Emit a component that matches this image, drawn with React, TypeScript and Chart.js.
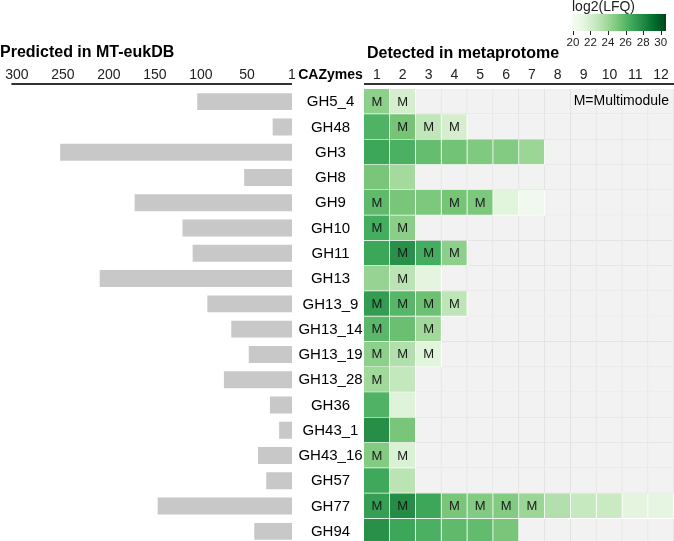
import React, { useEffect, useRef } from 'react';
import { Chart, registerables } from 'chart.js';
Chart.register(...registerables);

const cazymes = ['GH5_4', 'GH48', 'GH3', 'GH8', 'GH9', 'GH10', 'GH11', 'GH13', 'GH13_9', 'GH13_14', 'GH13_19', 'GH13_28', 'GH36', 'GH43_1', 'GH43_16', 'GH57', 'GH77', 'GH94'];
const predictedCounts = [104, 22, 253, 53, 172, 120, 109, 210, 93, 67, 48, 75, 25, 15, 38, 29, 147, 42];
const predictedTicks = [300, 250, 200, 150, 100, 50, 1];
const detectedColumns = [1, 2, 3, 4, 5, 6, 7, 8, 9, 10, 11, 12];
const lfqValues: number[][] = [
  [24.5, 22.0],
  [26.2, 25.2, 22.8, 22.0],
  [26.8, 26.3, 25.6, 25.3, 24.9, 24.8, 24.1],
  [25.1, 23.8],
  [25.8, 25.1, 25.0, 25.2, 25.0, 21.4, 20.4],
  [26.5, 24.6],
  [26.8, 27.7, 26.5, 24.5],
  [24.2, 23.0, 21.3],
  [27.2, 26.0, 25.4, 22.9],
  [25.9, 25.5, 23.9],
  [24.5, 23.3, 21.4],
  [23.9, 22.7],
  [26.2, 21.5],
  [27.8, 25.1],
  [24.8, 21.7],
  [26.7, 23.0],
  [27.1, 27.9, 26.8, 25.1, 24.8, 24.8, 24.1, 23.3, 22.6, 22.5, 21.3, 21.2],
  [27.7, 26.8, 26.3, 25.8, 25.7, 25.1],
];
const multimoduleCols: number[][] = [
  [1, 2], [2, 3, 4], [], [], [1, 4, 5], [1, 2], [2, 3, 4], [2], [1, 2, 3, 4],
  [1, 3], [1, 2, 3], [1], [], [], [1, 2], [], [1, 2, 4, 5, 6, 7], [],
];
const legendTicks = [20, 22, 24, 26, 28, 30];
const LFQ_MIN = 19.9;
const LFQ_MAX = 30.6;

const GREENS = ['#f7fcf5', '#e5f5e0', '#c7e9c0', '#a1d99b', '#74c476', '#41ab5d', '#238b45', '#006d2c', '#00441b'];
const FONT = "'Liberation Sans', Arial, Helvetica, sans-serif";

function hexToRgb(h: string) {
  return [parseInt(h.slice(1, 3), 16), parseInt(h.slice(3, 5), 16), parseInt(h.slice(5, 7), 16)];
}
function greens(v: number) {
  let t = (v - LFQ_MIN) / (LFQ_MAX - LFQ_MIN);
  t = Math.max(0, Math.min(1, t));
  const p = t * (GREENS.length - 1);
  const i = Math.min(GREENS.length - 2, Math.floor(p));
  const f = p - i;
  const a = hexToRgb(GREENS[i]);
  const b = hexToRgb(GREENS[i + 1]);
  const c = a.map((x, k) => Math.round(x + (b[k] - x) * f));
  return `rgb(${c[0]},${c[1]},${c[2]})`;
}

const AREA_TOP = 89;
const AREA_BOTTOM = 544;
const CANVAS_H = 560;
const A_W = 376;
const B_LEFT = 364;
const B_W = 310;

export default function App() {
  const refA = useRef<HTMLCanvasElement>(null);
  const refB = useRef<HTMLCanvasElement>(null);

  useEffect(() => {
    const leftPlugin = {
      id: 'leftDecor',
      afterDraw(chart: any) {
        const ctx = chart.ctx;
        const { left, right } = chart.chartArea;
        const y = chart.scales.y;
        ctx.save();
        ctx.strokeStyle = '#333333';
        ctx.lineWidth = 2;
        ctx.beginPath();
        ctx.moveTo(left, 84);
        ctx.lineTo(right, 84);
        ctx.stroke();
        ctx.fillStyle = '#000';
        ctx.textBaseline = 'alphabetic';
        ctx.textAlign = 'left';
        ctx.font = `bold 16px ${FONT}`;
        ctx.fillText('Predicted in MT-eukDB', 0, 57);
        ctx.textAlign = 'center';
        ctx.textBaseline = 'middle';
        ctx.font = `bold 14px ${FONT}`;
        ctx.fillText('CAZymes', 330.5, 75);
        ctx.font = `15px ${FONT}`;
        cazymes.forEach((c, i) => {
          ctx.fillText(c, 330.5, y.getPixelForValue(i) + 0.5);
        });
        ctx.restore();
      },
    };

    const chartA = new Chart(refA.current!, {
      type: 'bar',
      data: {
        labels: cazymes,
        datasets: [{
          data: predictedCounts,
          backgroundColor: '#c8c8c8',
          borderWidth: 0,
          barPercentage: 0.67,
          categoryPercentage: 1,
        }],
      },
      options: {
        indexAxis: 'y',
        animation: false,
        responsive: false,
        devicePixelRatio: 1,
        layout: { padding: { left: 11, right: A_W - 292, top: AREA_TOP - 30, bottom: CANVAS_H - AREA_BOTTOM } },
        plugins: { legend: { display: false }, tooltip: { enabled: false } },
        scales: {
          x: {
            type: 'linear',
            position: 'top',
            reverse: true,
            min: 1,
            max: 306,
            afterBuildTicks: (s: any) => { s.ticks = predictedTicks.map((v) => ({ value: v })); },
            afterFit: (s: any) => { s.height = 30; },
            grid: { display: false, drawTicks: false },
            border: { display: false },
            ticks: { font: { size: 14, family: FONT }, color: '#222', padding: 5, maxRotation: 0, autoSkip: false },
          },
          y: {
            type: 'category',
            display: false,
          },
        },
      },
      plugins: [leftPlugin],
    } as any);

    const rightPlugin = {
      id: 'rightDecor',
      afterDatasetsDraw(chart: any) {
        const ctx = chart.ctx;
        const xs = chart.scales.x;
        const ys = chart.scales.y;
        ctx.save();
        ctx.fillStyle = '#1a1a1a';
        ctx.textAlign = 'center';
        ctx.textBaseline = 'middle';
        ctx.font = `13px ${FONT}`;
        multimoduleCols.forEach((cols, r) => {
          cols.forEach((c) => {
            ctx.fillText('M', xs.getPixelForValue(c), ys.getPixelForValue(r) + 0.5);
          });
        });
        ctx.restore();
      },
      afterDraw(chart: any) {
        const ctx = chart.ctx;
        const { left, right } = chart.chartArea;
        const ys = chart.scales.y;
        ctx.save();
        ctx.strokeStyle = '#333333';
        ctx.lineWidth = 2;
        ctx.beginPath();
        ctx.moveTo(left - 1, 84);
        ctx.lineTo(right, 84);
        ctx.stroke();
        ctx.fillStyle = '#000';
        ctx.textAlign = 'left';
        ctx.textBaseline = 'alphabetic';
        ctx.font = `bold 16px ${FONT}`;
        ctx.fillText('Detected in metaprotome', 367 - B_LEFT, 58);
        ctx.font = `14px ${FONT}`;
        ctx.textAlign = 'right';
        ctx.textBaseline = 'middle';
        ctx.fillText('M=Multimodule', 669 - B_LEFT, ys.getPixelForValue(0));
        // colour legend
        const x0 = 572 - B_LEFT;
        const x1 = 666 - B_LEFT;
        const g = ctx.createLinearGradient(x0, 0, x1, 0);
        GREENS.forEach((c, i) => g.addColorStop(i / (GREENS.length - 1), c));
        ctx.fillStyle = g;
        ctx.fillRect(x0, 14, x1 - x0, 17);
        ctx.strokeStyle = '#222';
        ctx.lineWidth = 1;
        ctx.fillStyle = '#222';
        ctx.textAlign = 'center';
        ctx.font = `11.5px ${FONT}`;
        legendTicks.forEach((v) => {
          const x = x0 + ((v - LFQ_MIN) / (LFQ_MAX - LFQ_MIN)) * (x1 - x0);
          ctx.beginPath();
          ctx.moveTo(Math.round(x) + 0.5, 31);
          ctx.lineTo(Math.round(x) + 0.5, 35);
          ctx.stroke();
          ctx.fillText(String(v), x, 43);
        });
        ctx.textAlign = 'left';
        ctx.textBaseline = 'alphabetic';
        ctx.font = `14px ${FONT}`;
        ctx.fillText('log2(LFQ)', 572 - B_LEFT, 11);
        ctx.restore();
      },
    };

    const datasets = detectedColumns.map((col) => ({
      label: String(col),
      data: cazymes.map(() => [col - 0.5, col + 0.5]),
      backgroundColor: (c: any) => {
        const v = lfqValues[c.dataIndex]?.[col - 1];
        return v == null ? '#f2f2f2' : greens(v);
      },
      borderColor: (c: any) => {
        const v = lfqValues[c.dataIndex]?.[col - 1];
        return v == null ? '#e2e2e2' : 'rgba(255,255,255,0.85)';
      },
      borderWidth: { top: 0, left: 0, right: 1, bottom: 1 },
      borderSkipped: false,
      barPercentage: 1,
      categoryPercentage: 1,
      grouped: false,
    }));

    const chartB = new Chart(refB.current!, {
      type: 'bar',
      data: { labels: cazymes, datasets },
      options: {
        indexAxis: 'y',
        animation: false,
        responsive: false,
        devicePixelRatio: 1,
        layout: { padding: { left: 0, right: 0, top: AREA_TOP - 30, bottom: CANVAS_H - AREA_BOTTOM } },
        plugins: { legend: { display: false }, tooltip: { enabled: false } },
        scales: {
          x: {
            type: 'linear',
            position: 'top',
            min: 0.5,
            max: 12.5,
            afterBuildTicks: (s: any) => { s.ticks = detectedColumns.map((v) => ({ value: v })); },
            afterFit: (s: any) => { s.height = 30; },
            grid: { display: false, drawTicks: false },
            border: { display: false },
            ticks: { font: { size: 14, family: FONT }, color: '#222', padding: 5, maxRotation: 0, autoSkip: false },
          },
          y: { type: 'category', display: false },
        },
      },
      plugins: [rightPlugin],
    } as any);

    return () => {
      chartA.destroy();
      chartB.destroy();
    };
  }, []);

  return (
    <div style={{ position: 'fixed', left: 0, top: 0, width: 674, height: 541, overflow: 'hidden', background: '#fff' }}>
      <canvas ref={refA} width={A_W} height={CANVAS_H} style={{ position: 'absolute', left: 0, top: 0, width: A_W, height: CANVAS_H }} />
      <canvas ref={refB} width={B_W} height={CANVAS_H} style={{ position: 'absolute', left: B_LEFT, top: 0, width: B_W, height: CANVAS_H }} />
    </div>
  );
}
